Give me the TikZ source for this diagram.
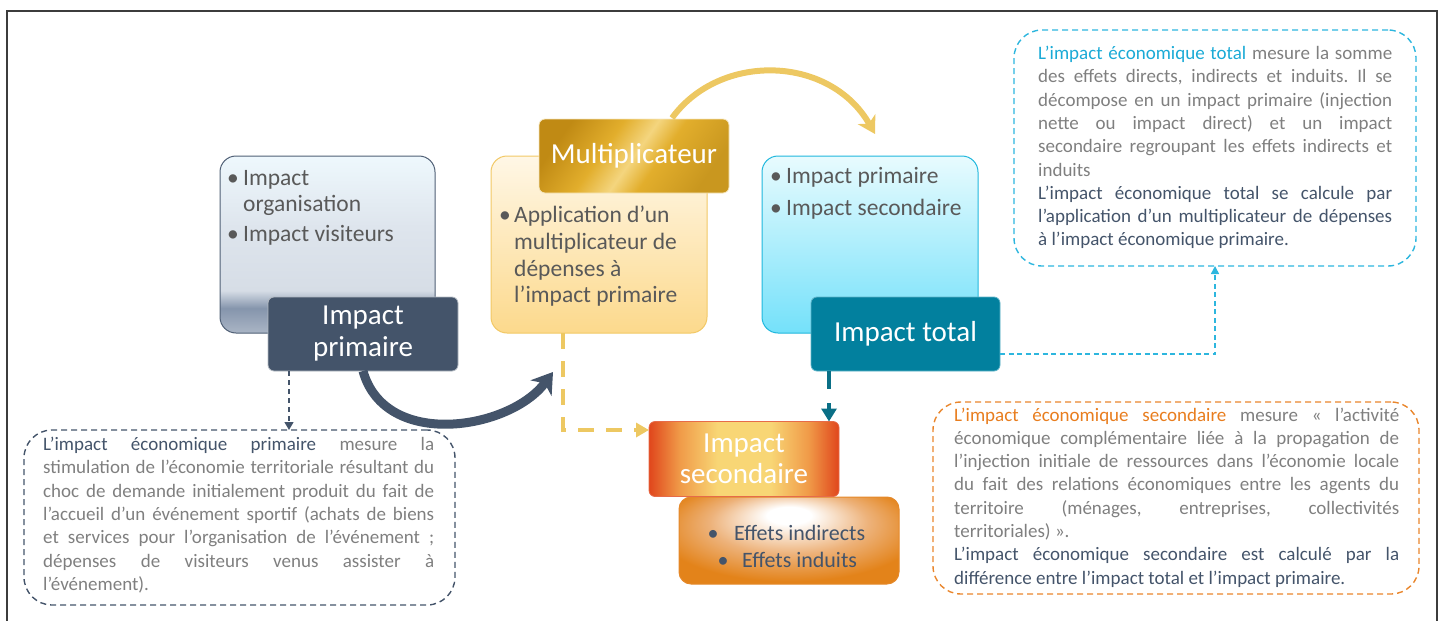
\documentclass[tikz,border=0pt]{standalone}
\usepackage{fontspec}
\setmainfont{Carlito}
\usetikzlibrary{arrows.meta,calc}

\definecolor{dark}{HTML}{44546A}
\definecolor{pgray}{HTML}{7F7F7F}
\definecolor{bgray}{HTML}{595959}
\definecolor{cyanT}{HTML}{1AAAD6}
\definecolor{cyanB}{HTML}{2DB6DE}
\definecolor{orT}{HTML}{E87D1E}
\definecolor{orB}{HTML}{E9862C}
\definecolor{yArrow}{HTML}{EDC862}
\definecolor{frameC}{HTML}{3C3C3C}
% left body
\definecolor{lbTop}{HTML}{EEF8FD}
\definecolor{lbMid}{HTML}{D6DDE6}
\definecolor{lbMid2}{HTML}{DEE5ED}
\definecolor{lbBand}{HTML}{8595AC}
\definecolor{lbBot}{HTML}{AAB5C5}
\definecolor{lbBorder}{HTML}{4F5F75}
% multiplicateur
\definecolor{mTop}{HTML}{FFF7E6}
\definecolor{mBot}{HTML}{FCD98C}
\definecolor{mBorder}{HTML}{F2C865}
\definecolor{gA}{HTML}{C08A14}
\definecolor{gB}{HTML}{E2AE2C}
\definecolor{gC}{HTML}{F4D57E}
\definecolor{gD}{HTML}{C9971F}
% blue
\definecolor{bTop}{HTML}{E8FBFE}
\definecolor{bMid}{HTML}{A8EDFC}
\definecolor{bBot}{HTML}{74E1FA}
\definecolor{bBorder}{HTML}{1FB7DD}
\definecolor{tealF}{HTML}{02809E}
\definecolor{tealB}{HTML}{5FB3C8}
\definecolor{tealA}{HTML}{0A6F86}
% red / orange
\definecolor{rIn}{HTML}{F8D675}
\definecolor{rMid}{HTML}{F09A48}
\definecolor{rOut}{HTML}{E0461C}
\definecolor{oMid}{HTML}{EDB27A}
\definecolor{oOut}{HTML}{E3831A}
\definecolor{oBorder}{HTML}{E5892A}

\pgfdeclareverticalshading{leftbody}{100bp}{color(0bp)=(lbBot); color(25bp)=(lbBot); color(32bp)=(lbBand); color(37bp)=(lbMid); color(55bp)=(lbMid2); color(75bp)=(lbTop); color(100bp)=(lbTop)}
\pgfdeclarehorizontalshading{goldsh}{100bp}{color(0bp)=(gA); color(25bp)=(gA); color(40bp)=(gB); color(50bp)=(gC); color(58bp)=(gB); color(75bp)=(gD); color(100bp)=(gD)}
\pgfdeclarehorizontalshading{redsh}{100bp}{color(0bp)=(rOut); color(25bp)=(rOut); color(33bp)=(rMid); color(43bp)=(rIn); color(57bp)=(rIn); color(67bp)=(rMid); color(75bp)=(rOut); color(100bp)=(rOut)}
\pgfdeclareradialshading{orsh}{\pgfpoint{0bp}{16bp}}{color(0bp)=(white); color(5bp)=(white); color(18bp)=(oMid); color(30bp)=(oOut); color(50bp)=(oOut)}

\newcommand\fs[2]{\fontsize{#1}{#2}\selectfont}
\newlength\pw
\newcommand\pj[1]{\makebox[\pw][s]{#1}}
\newcommand\pl[1]{\makebox[\pw][l]{#1}}
\newcommand\paralines[5]{%
  \setlength\pw{#4}%
  \foreach \linetext [count=\k] in {#5} {%
    \node[ptext, anchor=base west] (#1\k) at (#2, {#3+23.3*(\k-1)}) {\linetext};
  }%
}
\frenchspacing

\begin{document}
\begin{tikzpicture}[x=1pt,y=-1pt,
  box/.style={rectangle, inner sep=0pt, outer sep=0pt},
  bodybox/.style={box, rounded corners=16pt, line width=1pt, minimum width=#1},
  hdr/.style={box, rounded corners=6pt, line width=0.8pt, text=white, font=\fs{29}{32}, align=center},
  dbox/.style={box, rounded corners=28pt, line width=1.4pt, dash pattern=on 6pt off 4pt},
  ptext/.style={inner sep=0pt, font=\fs{19}{23}, text=pgray},
  btext/.style={inner sep=0pt, font=\fs{23.5}{27}, text=bgray},
  etext/.style={inner sep=0pt, font=\fs{22}{26}, text=dark},
]
\useasboundingbox (0,0) rectangle (1443,621);

% frame
\draw[frameC, line width=1.5pt] (7,640) -- (7,11) -- (1437,11) -- (1437,640);

% ---------- left group
\node[bodybox=215pt, minimum height=177pt, shade, shading=leftbody, draw=lbBorder] (lb) at (327.5,244.5) {};
\node[hdr, fill=dark, draw=white!60!dark, minimum width=190pt, minimum height=74pt] (ip) at (363,334) {Impact\\primaire};
\node[btext, anchor=base] (lb1b) at (233,185) {•};
\node[btext, anchor=base west] (lb1) at (243,185) {Impact};
\node[btext, anchor=base west] (lb2) at (243,211) {organisation};
\node[btext, anchor=base] (lb3b) at (233,241) {•};
\node[btext, anchor=base west] (lb3) at (243,241) {Impact visiteurs};

% ---------- multiplicateur group
\node[bodybox=216pt, minimum height=177pt, top color=mTop, bottom color=mBot, draw=mBorder] (mb) at (599,244.5) {};
\node[hdr, shade, shading=goldsh, shading angle=-35, draw=white!70!gB, minimum width=190pt, minimum height=74pt] (mh) at (634,156) {Multiplicateur};
\node[btext, anchor=base] (mb1b) at (505,222) {•};
\node[btext, anchor=base west] (mb1) at (514,222) {Application d’un};
\node[btext, anchor=base west] (mb2) at (514,249) {multiplicateur de};
\node[btext, anchor=base west] (mb3) at (514,276) {dépenses à};
\node[btext, anchor=base west] (mb4) at (514,302) {l’impact primaire};

% ---------- total group
\node[bodybox=216pt, minimum height=177pt, top color=bTop, middle color=bMid, bottom color=bBot, draw=bBorder] (bb) at (870,244.5) {};
\node[hdr, fill=tealF, draw=tealB, minimum width=189pt, minimum height=74pt] (it) at (905.5,334) {Impact total};
\node[btext, anchor=base] (bb1b) at (776,183) {•};
\node[btext, anchor=base west] (bb1) at (786,183) {Impact primaire};
\node[btext, anchor=base] (bb2b) at (776,215) {•};
\node[btext, anchor=base west] (bb2) at (786,215) {Impact secondaire};

% ---------- secondaire group
\node[box, rounded corners=12pt, shade, shading=orsh, draw=oBorder, line width=1pt, minimum width=220pt, minimum height=87pt] (eb) at (789,540.5) {};
\node[hdr, shade, shading=redsh, draw=rOut!80!white, minimum width=190pt, minimum height=75pt, font=\fs{29}{31}] (rs) at (744,459) {Impact\\secondaire};
\node[etext, anchor=base] (eb1b) at (713,540) {•};
\node[etext, anchor=base west] (eb1) at (734,540) {Effets indirects};
\node[etext, anchor=base] (eb2b) at (723,567) {•};
\node[etext, anchor=base west] (eb2) at (742,567) {Effets induits};

% ---------- dashed text boxes
\node[dbox, draw=dark, minimum width=431pt, minimum height=175pt] (lbox) at (239.5,517.5) {};
\node[dbox, draw=cyanB, minimum width=402pt, minimum height=236pt] (tbox) at (1215,148) {};
\node[dbox, draw=orB, minimum width=486pt, minimum height=192pt] (bbox) at (1176,498) {};

\paralines{lt}{43}{450.5}{391pt}{%
 {\pj{\textcolor{dark}{L’impact économique primaire} mesure la}},
 {\pj{stimulation de l’économie territoriale résultant du}},
 {\pj{choc de demande initialement produit du fait de}},
 {\pj{l’accueil d’un événement sportif (achats de biens}},
 {\pj{et services pour l’organisation de l’événement ;}},
 {\pj{dépenses de visiteurs venus assister à}},
 {\pl{l’événement).}}}

\paralines{tt}{1038}{59.5}{354pt}{%
 {\pj{\textcolor{cyanT}{L’impact économique total} mesure la somme}},
 {\pj{des effets directs, indirects et induits. Il se}},
 {\pj{décompose en un impact primaire (injection}},
 {\pj{nette ou impact direct) et un impact}},
 {\pj{secondaire regroupant les effets indirects et}},
 {\pl{induits}},
 {\pj{\color{dark}L’impact économique total se calcule par}},
 {\pj{\color{dark}l’application d’un multiplicateur de dépenses}},
 {\pl{\color{dark}à l’impact économique primaire.}}}

\paralines{bt}{954}{421}{445pt}{%
 {\pj{\textcolor{orT}{L’impact économique secondaire} mesure « l’activité}},
 {\pj{économique complémentaire liée à la propagation de}},
 {\pj{l’injection initiale de ressources dans l’économie locale}},
 {\pj{du fait des relations économiques entre les agents du}},
 {\pj{territoire (ménages, entreprises, collectivités}},
 {\pl{territoriales) ».}},
 {\pj{\color{dark}L’impact économique secondaire est calculé par la}},
 {\pl{\color{dark}différence entre l’impact total et l’impact primaire.}}}

% ---------- connectors
\coordinate (darkend) at (553,372);
\draw[dark, line width=9pt, -{Stealth[length=20pt, width=26pt, inset=6pt]}]
  (ip.south) .. controls (385,450) and (510,430) .. (darkend);

\coordinate (ystart) at (672,118);
\coordinate (yend) at (875,134);
\draw[yArrow, line width=6pt, -{Stealth[length=17pt, width=20pt, inset=5pt]}]
  (ystart) .. controls (720,52) and (830,55) .. (yend);

\coordinate (ycorner) at (563,430);
\draw[yArrow, line width=4.5pt, dash pattern=on 16pt off 12pt, -{Triangle[length=13pt, width=14pt]}]
  ([xshift=-36pt]mb.south) -- (ycorner) -- (rs.west |- ycorner);

\draw[tealA, line width=4.5pt, dash pattern=on 18pt off 14pt, -{Triangle[length=13pt, width=15pt]}]
  ([xshift=-76.5pt]it.south) -- ([xshift=-76.5pt]it.south |- rs.north);

\draw[dark, line width=1.3pt, dash pattern=on 5pt off 4pt, -{Triangle[length=8pt, width=9pt]}]
  ([xshift=-74pt]ip.south) -- ([xshift=-74pt]ip.south |- lbox.north);

\draw[cyanB, line width=1.5pt, dash pattern=on 5pt off 3.5pt, -{Triangle[length=8pt, width=8pt]}]
  ([yshift=-20pt]it.east) -| (tbox.south);
\end{tikzpicture}
\end{document}
